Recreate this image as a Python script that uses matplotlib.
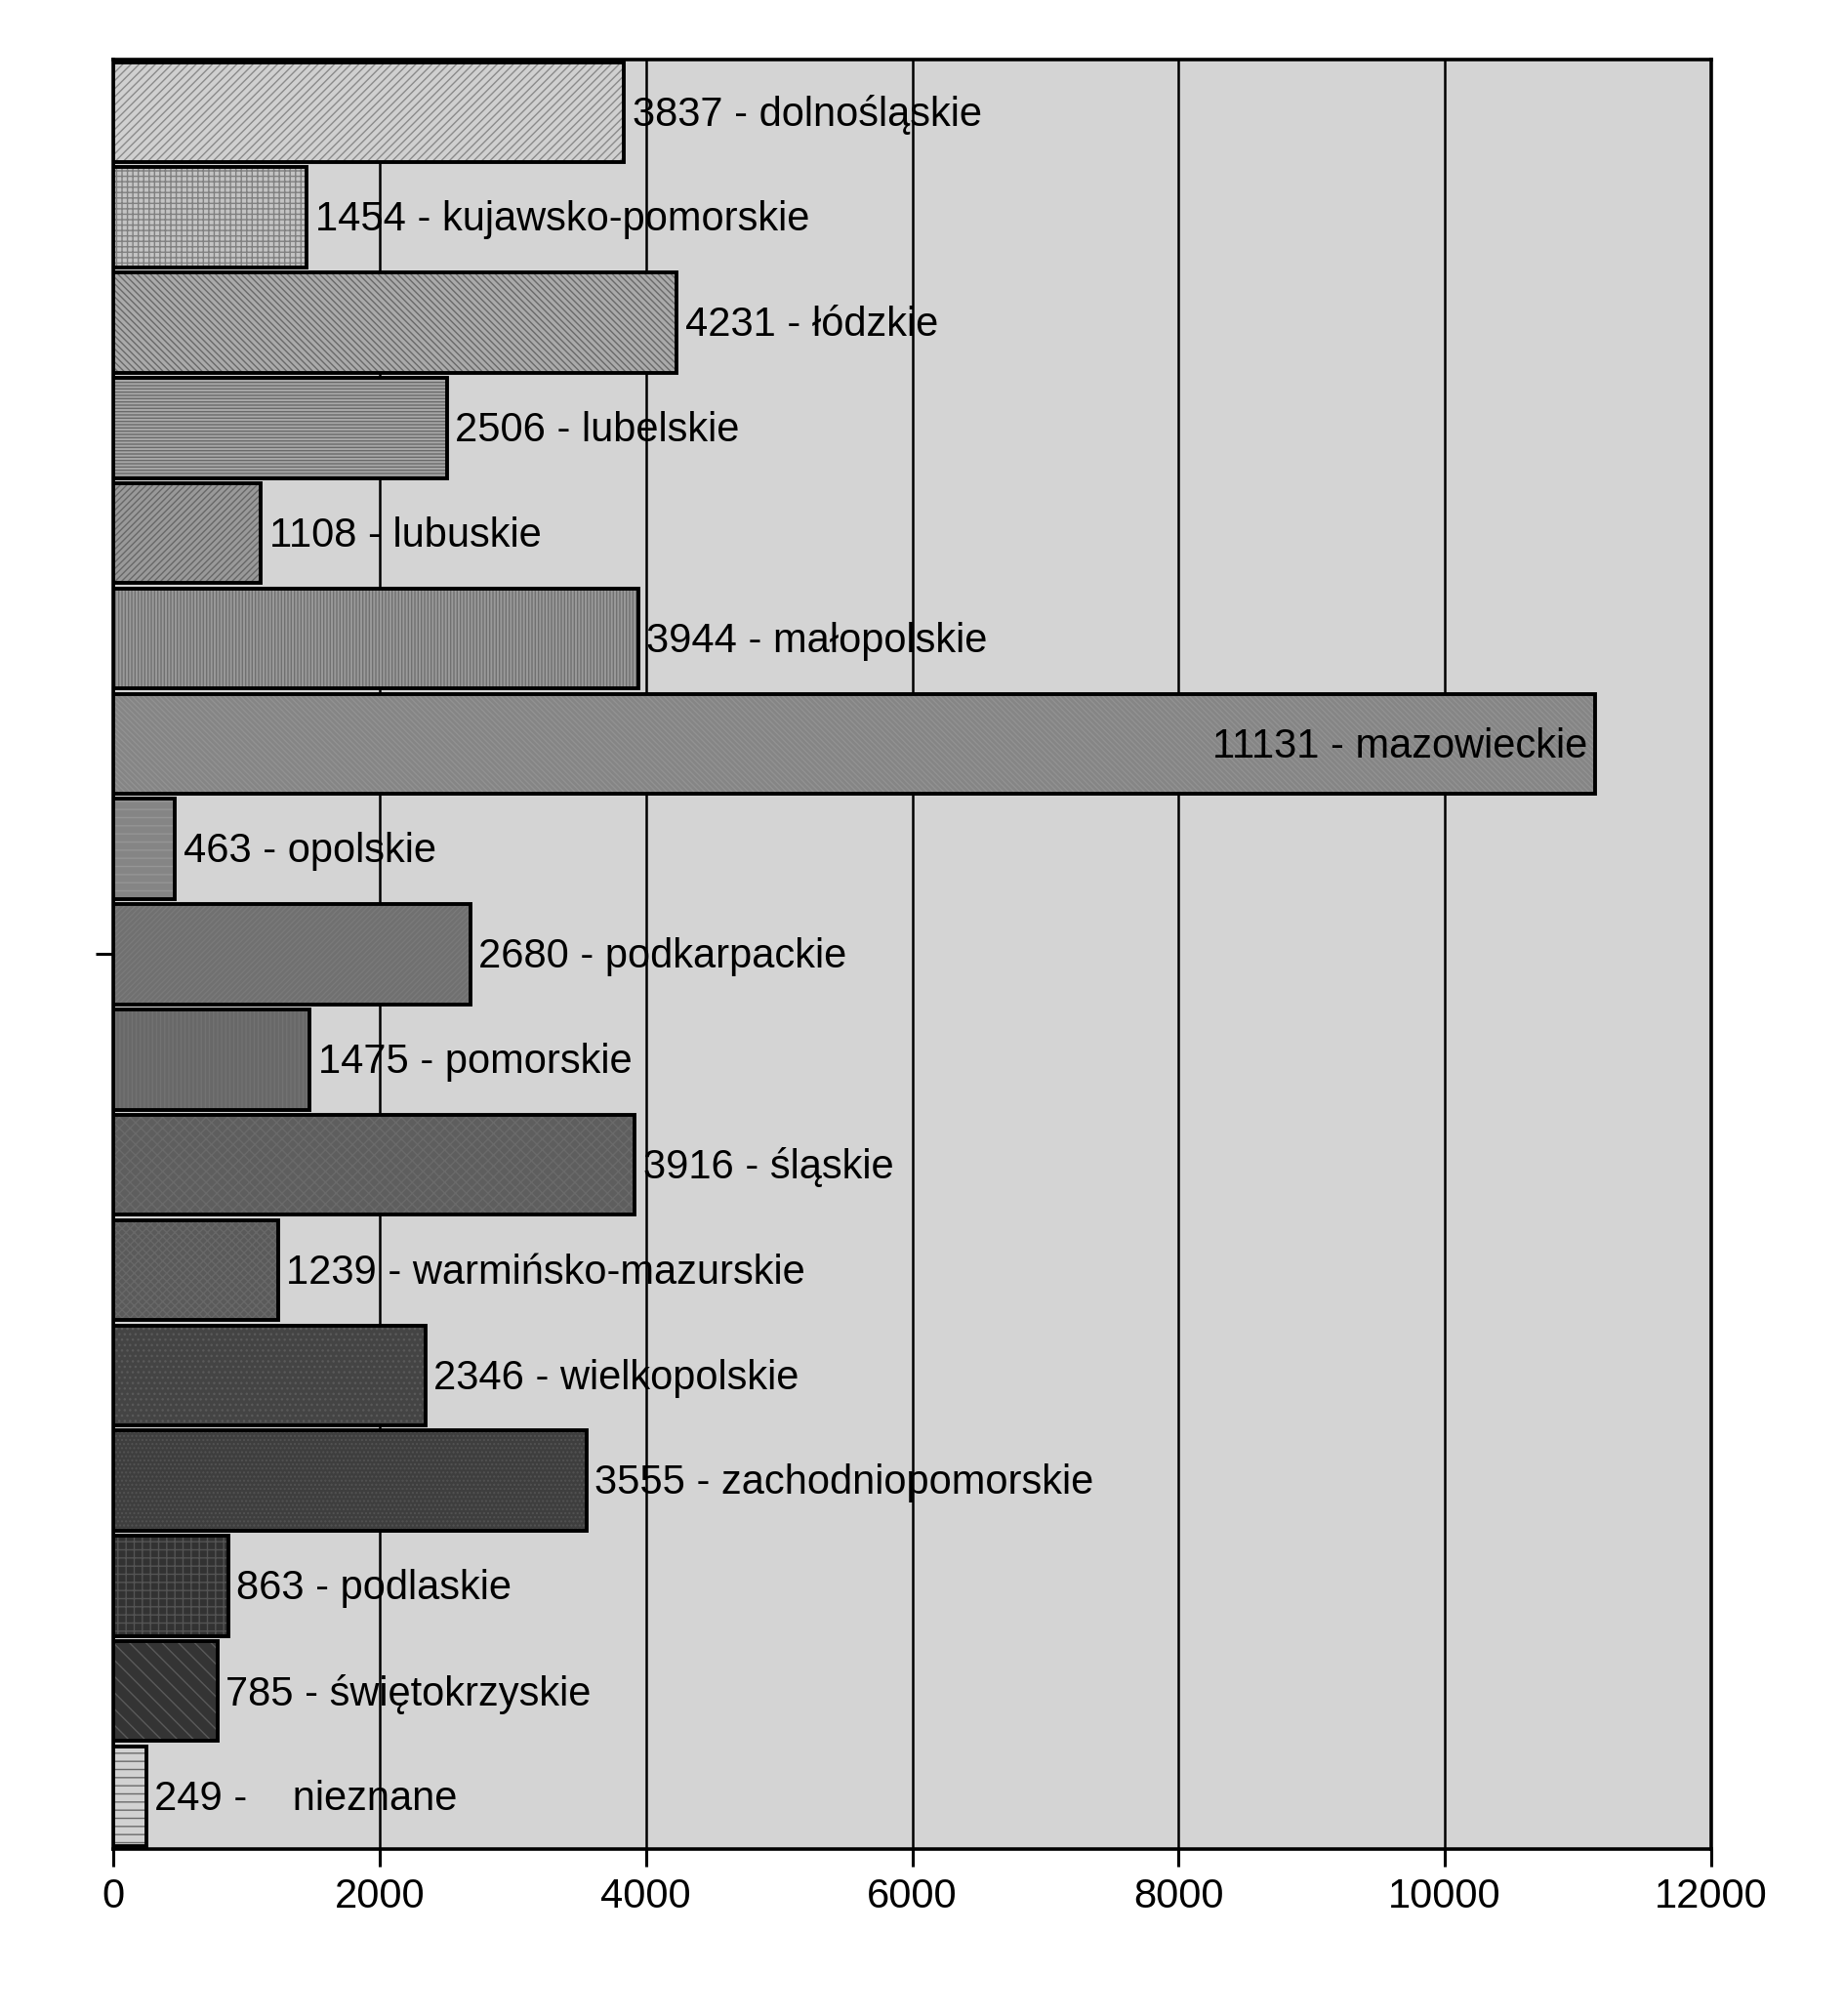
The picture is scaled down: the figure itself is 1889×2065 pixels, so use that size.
import matplotlib
matplotlib.use('Agg')
from matplotlib import pyplot as plt
import numpy as np

regions = ['dolnośląskie', 'kujawsko-pomorskie', 'łódzkie', 'lubelskie',
           'lubuskie', 'małopolskie', 'mazowieckie', 'opolskie',
           'podkarpackie', 'pomorskie', 'śląskie', 'warmińsko-mazurskie',
           'wielkopolskie', 'zachodniopomorskie', 'podlaskie',
           'świętokrzyskie', 'nieznane']
counts = [3837, 1454, 4231, 2506, 1108, 3944, 11131, 463, 2680, 1475, 3916,
          1239, 2346, 3555, 863, 785, 249]
x_ticks = [0, 2000, 4000, 6000, 8000, 10000, 12000]

# grey fills + hatches, roughly following the original printout
face_colors = ['#d0d0d0', '#c4c4c4', '#aaaaaa', '#a8a8a8', '#999999',
               '#9a9a9a', '#858585', '#858585', '#707070', '#686868',
               '#5e5e5e', '#5a5a5a', '#444444', '#3e3e3e', '#323232',
               '#343434', '#d2d2d2']
hatch_colors = ['#8a8a8a', '#808080', '#6a6a6a', '#6a6a6a', '#686868',
                '#707070', '#929292', '#959595', '#7a7a7a', '#727272',
                '#6a6a6a', '#686868', '#5a5a5a', '#535353', '#545454',
                '#5a5a5a', '#6a6a6a']
hatches = ['////', '+++', '\\' * 5, '-----', '/////', '|||||', '\\' * 6,
           '--', '/' * 6, '||||', 'xxx', 'xxxx', '...', '....', '++',
           '\\' * 2, '--']

plt.rcParams['font.family'] = ['Liberation Sans', 'DejaVu Sans']
plt.rcParams['hatch.linewidth'] = 1.0

fig = plt.figure(figsize=(18.9, 20.65), dpi=100)
ax = fig.add_axes([0.0614, 0.0828, 0.8661, 0.8877])
ax.set_facecolor('#d4d4d4')

y = np.arange(len(counts))
bars = ax.barh(y, counts, height=0.95, linewidth=0, zorder=2)
for bar, fc, hc, h in zip(bars, face_colors, hatch_colors, hatches):
    bar.set_facecolor(fc)
    bar.set_edgecolor(hc)
    bar.set_hatch(h)
ax.barh(y, counts, height=0.95, fill=False, edgecolor='k', linewidth=2.8,
        zorder=3)

for i, (name, val) in enumerate(zip(regions, counts)):
    if name == 'nieznane':
        label = f'{val} -    {name}'
    else:
        label = f'{val} - {name}'
    if val > 10000:
        ax.annotate(label, (val, i), xytext=(-6, -2), textcoords='offset points',
                    ha='right', va='center', fontsize=30, zorder=4)
    else:
        ax.annotate(label, (val, i), xytext=(6, -2), textcoords='offset points',
                    ha='left', va='center', fontsize=30, zorder=4)

ax.set_xlim(0, 12000)
ax.set_ylim(len(counts) - 0.5, -0.5)
ax.set_xticks(x_ticks)
ax.set_xticklabels([str(t) for t in x_ticks], fontsize=30)
ax.set_yticks([8])
ax.set_yticklabels([''])
ax.tick_params(axis='both', direction='out', length=13, width=2.2, color='k')
ax.tick_params(axis='x', pad=8)
ax.grid(axis='x', color='k', linewidth=1.8, zorder=1)
ax.set_axisbelow(True)
for s in ax.spines.values():
    s.set_linewidth(2.6)
    s.set_color('k')

plt.savefig('out.png', dpi=100, facecolor='white')
